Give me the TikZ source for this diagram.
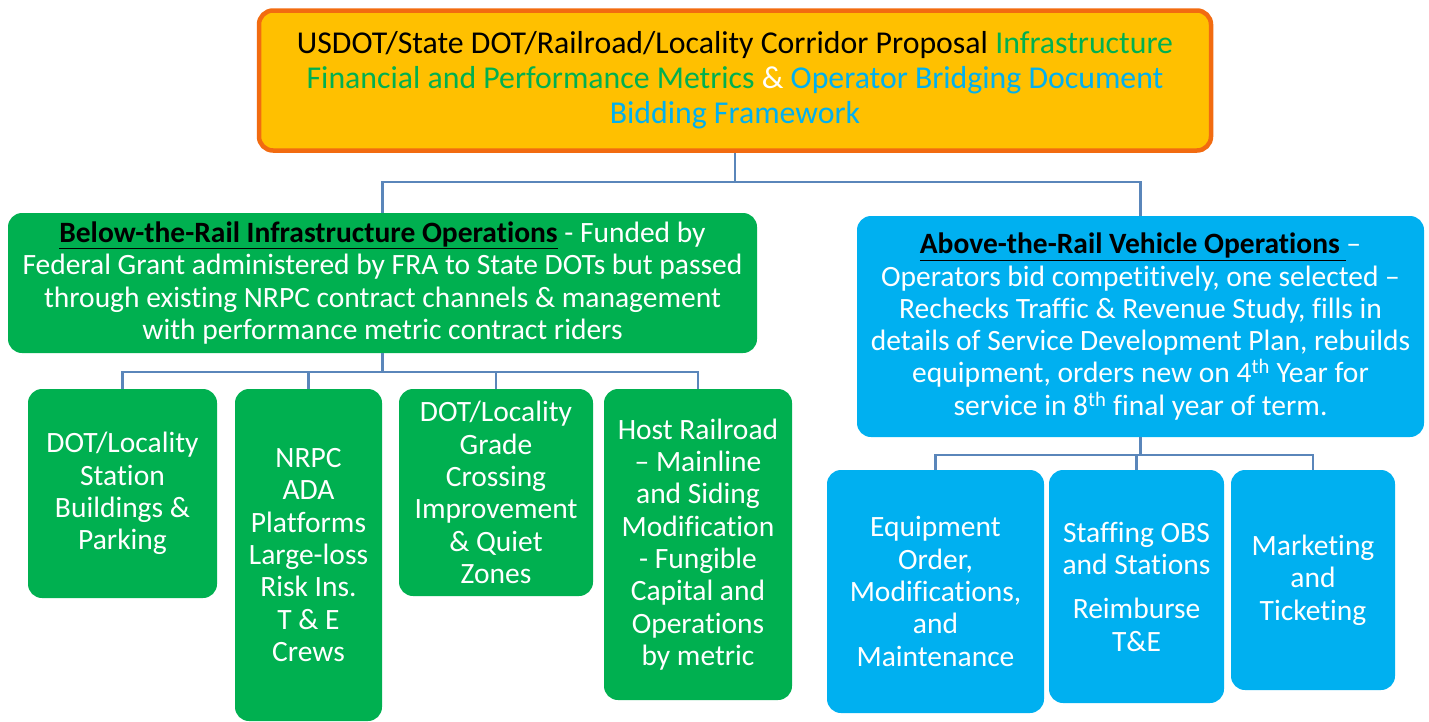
\documentclass[tikz,border=0pt]{standalone}
\usepackage{fontspec}
\setmainfont{Carlito}[Ligatures=NoCommon]
\definecolor{gold}{HTML}{FFC000}
\definecolor{orangeb}{HTML}{F26B10}
\definecolor{grn}{HTML}{00B050}
\definecolor{blu}{HTML}{00B0F0}
\definecolor{conn}{HTML}{5A86BA}
\tikzset{
  box/.style={rectangle, rounded corners=14pt, inner sep=0pt, align=center, text=white},
  gbox/.style={box, fill=grn},
  bbox/.style={box, fill=blu},
  connector/.style={draw=conn, line width=2.4pt},
  big/.style={font=\fontsize{31.8}{35}\selectfont},
  mid/.style={font=\fontsize{29.5}{32.3}\selectfont},
}
\begin{document}
\begin{tikzpicture}[x=1pt,y=-1pt]
\useasboundingbox (0,0) rectangle (1429,721);
% top box
\node[box, big, fill=gold, draw=orangeb, line width=4.5pt, minimum width=952pt, minimum height=140pt, text=black] (top) at (735,80.5)
 {USDOT/State DOT/Railroad/Locality Corridor Proposal \textcolor{grn}{Infrastructure}\\
  \textcolor{grn}{Financial and Performance Metrics} \textcolor{white}{\&} \textcolor{blu}{Operator Bridging Document}\\
  \textcolor{blu}{Bidding Framework}};
% level 2
\node[gbox, mid, minimum width=749pt, minimum height=140pt] (below) at (382.5,283)
 {\textcolor{black}{\underline{\textbf{Below-the-Rail Infrastructure Operations}}} - Funded by\\
  Federal Grant administered by FRA to State DOTs but passed\\
  through existing NRPC contract channels \& management\\
  with performance metric contract riders};
\node[bbox, mid, minimum width=567pt, minimum height=221pt] (above) at (1140.5,326.5)
 {\textcolor{black}{\underline{\textbf{Above-the-Rail Vehicle Operations }}}–\\
  Operators bid competitively, one selected –\\
  Rechecks Traffic \& Revenue Study, fills in\\
  details of Service Development Plan, rebuilds\\
  equipment, orders new on 4\textsuperscript{th} Year for\\
  service in 8\textsuperscript{th} final year of term.};
% children left
\node[gbox, mid, minimum width=189pt, minimum height=209pt] (c1) at (122.5,493.5)
 {DOT/Locality\\Station\\Buildings \&\\Parking};
\node[gbox, mid, minimum width=147pt, minimum height=332pt] (c2) at (308.5,555)
 {NRPC\\ADA\\Platforms\\Large-loss\\Risk Ins.\\T \& E\\Crews};
\node[gbox, mid, minimum width=194pt, minimum height=207pt] (c3) at (496,492.5)
 {DOT/Locality\\Grade\\Crossing\\Improvement\\\& Quiet\\Zones};
\node[gbox, mid, minimum width=188pt, minimum height=311pt] (c4) at (698,544.5)
 {Host Railroad\\– Mainline\\and Siding\\Modification\\- Fungible\\Capital and\\Operations\\by metric};
% children right
\node[bbox, mid, minimum width=217pt, minimum height=243pt] (r1) at (935.5,591.5)
 {Equipment\\Order,\\Modifications,\\and\\Maintenance};
\node[bbox, mid, minimum width=175pt, minimum height=233pt] (r2) at (1136.5,586.5)
 {Staffing OBS\\and Stations\\[12pt]Reimburse\\T\&E};
\node[bbox, mid, minimum width=164pt, minimum height=220pt] (r3) at (1313,580)
 {Marketing\\and\\Ticketing};
% connectors
\coordinate (j1) at (735,182);
\draw[connector] (top.south) -- (j1) -| (below.north);
\draw[connector] (j1) -| (above.north);
\coordinate (j2) at (382.5,372);
\draw[connector] (below.south) -- (j2) -| (c1.north);
\draw[connector] (j2) -| (c2.north);
\draw[connector] (j2) -| (c3.north);
\draw[connector] (j2) -| (c4.north);
\coordinate (j3) at (1140.5,455);
\draw[connector] (above.south) -- (j3) -| (r1.north);
\draw[connector] (j3) -| (r2.north);
\draw[connector] (j3) -| (r3.north);
\end{tikzpicture}
\end{document}
